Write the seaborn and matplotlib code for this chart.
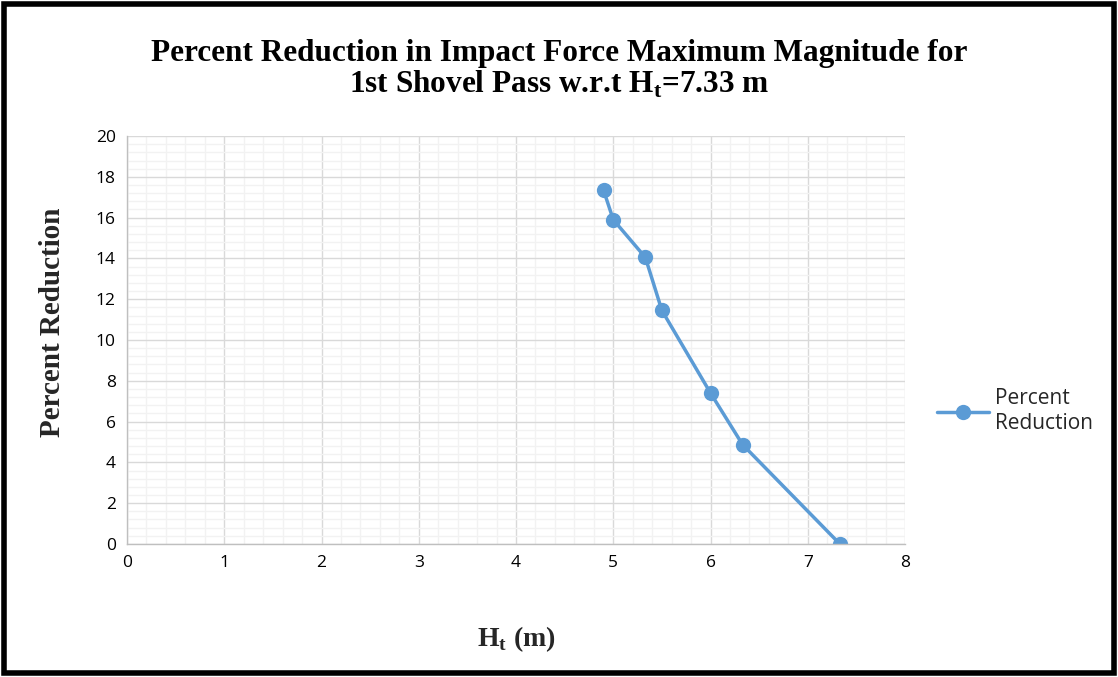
import numpy as np
import pandas as pd
import matplotlib
matplotlib.use('Agg')
import matplotlib.pyplot as plt
import seaborn as sns
from matplotlib.patches import Rectangle
from matplotlib.ticker import MultipleLocator

# values
ht = [4.9, 5.0, 5.33, 5.5, 6.0, 6.33, 7.33]
reduction = [17.35, 15.9, 14.05, 11.45, 7.4, 4.87, 0.0]
series_name = 'Percent\nReduction'

title = 'Percent Reduction in Impact Force Maximum Magnitude for\n1st Shovel Pass w.r.t H$_\\mathbf{t}$=7.33 m'
xlabel = 'H$_\\mathbf{t}$ (m)'
ylabel = 'Percent Reduction'

df = pd.DataFrame({'ht': ht, 'reduction': reduction})

sns.set_style('white')
plt.rcParams['font.family'] = ['Open Sans', 'DejaVu Sans']
plt.rcParams['mathtext.fontset'] = 'custom'
plt.rcParams['mathtext.bf'] = 'Liberation Serif:bold'
plt.rcParams['mathtext.rm'] = 'Liberation Serif:bold'

fig = plt.figure(figsize=(11.18, 6.77), dpi=100)
ax = fig.add_axes([0.1136, 0.1965, 0.6959, 0.6025])

blue = '#5b9bd5'
sns.lineplot(data=df, x='ht', y='reduction', ax=ax, color=blue, linewidth=2.5,
             marker='o', markersize=11, markeredgewidth=0, sort=False,
             label=series_name)

ax.set_xlim(0, 8)
ax.set_ylim(0, 20)
ax.xaxis.set_major_locator(MultipleLocator(1))
ax.yaxis.set_major_locator(MultipleLocator(2))
ax.xaxis.set_minor_locator(MultipleLocator(0.2))
ax.yaxis.set_minor_locator(MultipleLocator(0.4))
ax.grid(which='major', color='#d9d9d9', linewidth=1.0)
ax.grid(which='minor', color='#f2f2f2', linewidth=1.0)
ax.set_axisbelow(True)
for s in ['top', 'right']:
    ax.spines[s].set_visible(False)
for s in ['left', 'bottom']:
    ax.spines[s].set_color('#bfbfbf')
    ax.spines[s].set_linewidth(1.0)
ax.tick_params(axis='both', which='both', length=0, labelsize=12.5, pad=8)
for lbl in ax.get_xticklabels() + ax.get_yticklabels():
    lbl.set_color('black')

ax.set_xlabel(xlabel, fontsize=20, fontweight='bold', family='Liberation Serif', labelpad=38)
ax.set_ylabel(ylabel, fontsize=21, fontweight='bold', family='Liberation Serif')
ax.yaxis.set_label_coords(-0.078, 0.544)
fig.suptitle(title, fontsize=22.5, fontweight='bold', family='Liberation Serif', y=0.943,
             linespacing=1.05, color='black')

leg = ax.legend(loc='center left', bbox_to_anchor=(1.03, 0.326), frameon=False,
                fontsize=15, handlelength=2.5, handletextpad=0.3, borderaxespad=0)

fig.patches.append(Rectangle((0.004, 0.006), 0.992, 0.988, transform=fig.transFigure,
                             fill=False, edgecolor='black', linewidth=4))

fig.savefig('out.png', dpi=100)
